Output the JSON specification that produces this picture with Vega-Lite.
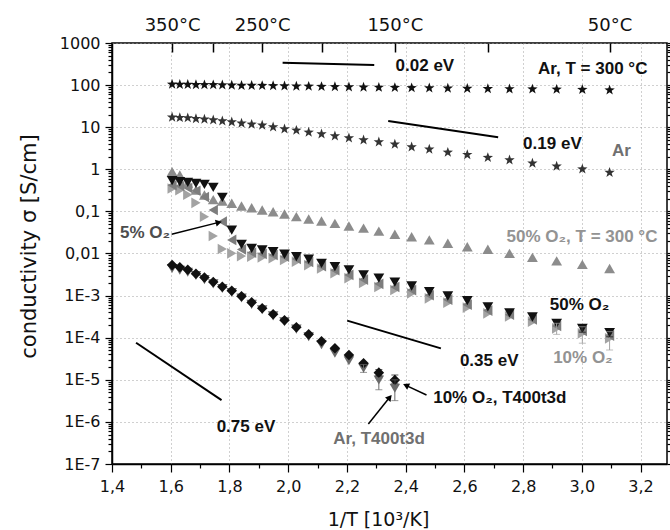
{
"$schema":"https://vega.github.io/schema/vega-lite/v6.json",
"width":555,"height":421,
"autosize":{"type":"none"},
"padding":{"left":112,"top":43,"right":3,"bottom":66},
"background":"white",
"config":{
 "view":{"stroke":"#000","strokeWidth":1.5},
 "axis":{"domainColor":"#000","domainWidth":1.5,"tickColor":"#000","tickWidth":1.2,"labelColor":"#111","titleColor":"#111","labelFont":"DejaVu Sans","titleFont":"DejaVu Sans","titleFontWeight":"normal","labelFontSize":16,"grid":false,"labelOverlap":false,"labelFlush":false}
},
"datasets":{
 "pts":[
{"x":1.6047,"s":0.88,"g":"O50T300"},{"x":1.6309,"s":0.73,"g":"O50T300"},{"x":1.658,"s":0.47,"g":"O50T300"},{"x":1.6859,"s":0.32,"g":"O50T300"},{"x":1.7148,"s":0.245,"g":"O50T300"},{"x":1.7448,"s":0.19,"g":"O50T300"},{"x":1.7757,"s":0.175,"g":"O50T300"},{"x":1.8078,"s":0.156,"g":"O50T300"},{"x":1.8411,"s":0.134,"g":"O50T300"},{"x":1.8756,"s":0.122,"g":"O50T300"},{"x":1.9115,"s":0.108,"g":"O50T300"},{"x":1.9487,"s":0.098,"g":"O50T300"},{"x":1.9875,"s":0.087,"g":"O50T300"},{"x":2.0278,"s":0.075,"g":"O50T300"},{"x":2.0698,"s":0.066,"g":"O50T300"},{"x":2.1135,"s":0.059,"g":"O50T300"},{"x":2.1591,"s":0.052,"g":"O50T300"},{"x":2.2068,"s":0.045,"g":"O50T300"},{"x":2.2566,"s":0.04,"g":"O50T300"},{"x":2.3087,"s":0.034,"g":"O50T300"},{"x":2.3632,"s":0.0286,"g":"O50T300"},{"x":2.4204,"s":0.025,"g":"O50T300"},{"x":2.4805,"s":0.021,"g":"O50T300"},{"x":2.5436,"s":0.0175,"g":"O50T300"},{"x":2.6099,"s":0.0145,"g":"O50T300"},{"x":2.6799,"s":0.0126,"g":"O50T300"},{"x":2.7537,"s":0.0101,"g":"O50T300"},{"x":2.8317,"s":0.0081,"g":"O50T300"},{"x":2.9142,"s":0.0067,"g":"O50T300"},{"x":3.0017,"s":0.0055,"g":"O50T300"},{"x":3.0945,"s":0.0044,"g":"O50T300"},
{"x":1.6047,"s":0.35,"g":"O10"},{"x":1.6309,"s":0.32,"g":"O10"},{"x":1.658,"s":0.25,"g":"O10"},{"x":1.6859,"s":0.16,"g":"O10"},{"x":1.7148,"s":0.075,"g":"O10"},{"x":1.7448,"s":0.026,"g":"O10"},{"x":1.7757,"s":0.0128,"g":"O10"},{"x":1.8078,"s":0.0101,"g":"O10"},{"x":1.8411,"s":0.0087,"g":"O10"},{"x":1.8756,"s":0.0084,"g":"O10"},{"x":1.9115,"s":0.0081,"g":"O10"},{"x":1.9487,"s":0.0077,"g":"O10"},{"x":1.9875,"s":0.007,"g":"O10"},{"x":2.0278,"s":0.0064,"g":"O10"},{"x":2.0698,"s":0.0053,"g":"O10"},{"x":2.1135,"s":0.0044,"g":"O10"},{"x":2.1591,"s":0.0034,"g":"O10"},{"x":2.2068,"s":0.0026,"g":"O10"},{"x":2.2566,"s":0.002,"g":"O10"},{"x":2.3087,"s":0.0016,"g":"O10"},{"x":2.3632,"s":0.00136,"g":"O10"},{"x":2.4204,"s":0.00113,"g":"O10"},{"x":2.4805,"s":0.00086,"g":"O10"},{"x":2.5436,"s":0.00068,"g":"O10"},{"x":2.6099,"s":0.00052,"g":"O10"},{"x":2.6799,"s":0.00038,"g":"O10"},{"x":2.7537,"s":0.00032,"g":"O10"},{"x":2.8317,"s":0.00024,"g":"O10"},{"x":2.9142,"s":0.000167,"g":"O10"},{"x":3.0017,"s":0.000127,"g":"O10"},{"x":3.0945,"s":0.0000968,"g":"O10"},
{"x":1.6047,"s":0.42,"g":"O5"},{"x":1.6309,"s":0.4,"g":"O5"},{"x":1.658,"s":0.36,"g":"O5"},{"x":1.6859,"s":0.31,"g":"O5"},{"x":1.7148,"s":0.22,"g":"O5"},{"x":1.7448,"s":0.108,"g":"O5"},{"x":1.7757,"s":0.057,"g":"O5"},{"x":1.8078,"s":0.021,"g":"O5"},{"x":1.8411,"s":0.0125,"g":"O5"},{"x":1.8756,"s":0.0105,"g":"O5"},{"x":1.9115,"s":0.0098,"g":"O5"},{"x":1.9487,"s":0.0092,"g":"O5"},{"x":1.9875,"s":0.0084,"g":"O5"},{"x":2.0278,"s":0.0074,"g":"O5"},{"x":2.0698,"s":0.0063,"g":"O5"},{"x":2.1135,"s":0.005,"g":"O5"},{"x":2.1591,"s":0.004,"g":"O5"},{"x":2.2068,"s":0.0031,"g":"O5"},{"x":2.2566,"s":0.0024,"g":"O5"},{"x":2.3087,"s":0.0019,"g":"O5"},{"x":2.3632,"s":0.0016,"g":"O5"},{"x":2.4204,"s":0.00135,"g":"O5"},{"x":2.4805,"s":0.00102,"g":"O5"},{"x":2.5436,"s":0.0008,"g":"O5"},{"x":2.6099,"s":0.00061,"g":"O5"},{"x":2.6799,"s":0.00044,"g":"O5"},{"x":2.7537,"s":0.00035,"g":"O5"},{"x":2.8317,"s":0.00027,"g":"O5"},{"x":2.9142,"s":0.00019,"g":"O5"},{"x":3.0017,"s":0.000145,"g":"O5"},{"x":3.0945,"s":0.000112,"g":"O5"},
{"x":1.6047,"s":0.0044,"g":"ArT400"},{"x":1.6309,"s":0.004,"g":"ArT400"},{"x":1.658,"s":0.0036,"g":"ArT400"},{"x":1.6859,"s":0.003,"g":"ArT400"},{"x":1.7148,"s":0.0024,"g":"ArT400"},{"x":1.7448,"s":0.0019,"g":"ArT400"},{"x":1.7757,"s":0.00148,"g":"ArT400"},{"x":1.8078,"s":0.00118,"g":"ArT400"},{"x":1.8411,"s":0.00088,"g":"ArT400"},{"x":1.8756,"s":0.00062,"g":"ArT400"},{"x":1.9115,"s":0.00046,"g":"ArT400"},{"x":1.9487,"s":0.00033,"g":"ArT400"},{"x":1.9875,"s":0.00024,"g":"ArT400"},{"x":2.0278,"s":0.00016,"g":"ArT400"},{"x":2.0698,"s":0.000105,"g":"ArT400"},{"x":2.1135,"s":0.000068,"g":"ArT400"},{"x":2.1591,"s":0.0000426,"g":"ArT400"},{"x":2.2068,"s":0.0000284,"g":"ArT400"},{"x":2.2566,"s":0.0000188,"g":"ArT400"},{"x":2.3087,"s":0.0000099,"g":"ArT400"},{"x":2.3632,"s":0.0000063,"g":"ArT400"},
{"x":1.6047,"s":17.2,"g":"Ar"},{"x":1.6309,"s":16.8,"g":"Ar"},{"x":1.658,"s":16.6,"g":"Ar"},{"x":1.6859,"s":15.9,"g":"Ar"},{"x":1.7148,"s":15.4,"g":"Ar"},{"x":1.7448,"s":14.8,"g":"Ar"},{"x":1.7757,"s":14.0,"g":"Ar"},{"x":1.8078,"s":13.3,"g":"Ar"},{"x":1.8411,"s":12.4,"g":"Ar"},{"x":1.8756,"s":11.7,"g":"Ar"},{"x":1.9115,"s":11.1,"g":"Ar"},{"x":1.9487,"s":10.1,"g":"Ar"},{"x":1.9875,"s":9.06,"g":"Ar"},{"x":2.0278,"s":8.43,"g":"Ar"},{"x":2.0698,"s":7.56,"g":"Ar"},{"x":2.1135,"s":6.89,"g":"Ar"},{"x":2.1591,"s":6.18,"g":"Ar"},{"x":2.2068,"s":5.54,"g":"Ar"},{"x":2.2566,"s":4.96,"g":"Ar"},{"x":2.3087,"s":4.45,"g":"Ar"},{"x":2.3632,"s":3.93,"g":"Ar"},{"x":2.4204,"s":3.39,"g":"Ar"},{"x":2.4805,"s":2.99,"g":"Ar"},{"x":2.5436,"s":2.53,"g":"Ar"},{"x":2.6099,"s":2.22,"g":"Ar"},{"x":2.6799,"s":1.89,"g":"Ar"},{"x":2.7537,"s":1.66,"g":"Ar"},{"x":2.8317,"s":1.39,"g":"Ar"},{"x":2.9142,"s":1.18,"g":"Ar"},{"x":3.0017,"s":1.01,"g":"Ar"},{"x":3.0945,"s":0.84,"g":"Ar"},
{"x":1.6047,"s":0.536,"g":"O50"},{"x":1.6309,"s":0.507,"g":"O50"},{"x":1.658,"s":0.49,"g":"O50"},{"x":1.6859,"s":0.465,"g":"O50"},{"x":1.7148,"s":0.44,"g":"O50"},{"x":1.7448,"s":0.373,"g":"O50"},{"x":1.7757,"s":0.216,"g":"O50"},{"x":1.8078,"s":0.036,"g":"O50"},{"x":1.8411,"s":0.0165,"g":"O50"},{"x":1.8756,"s":0.0133,"g":"O50"},{"x":1.9115,"s":0.0121,"g":"O50"},{"x":1.9487,"s":0.011,"g":"O50"},{"x":1.9875,"s":0.0096,"g":"O50"},{"x":2.0278,"s":0.0084,"g":"O50"},{"x":2.0698,"s":0.0073,"g":"O50"},{"x":2.1135,"s":0.0058,"g":"O50"},{"x":2.1591,"s":0.0049,"g":"O50"},{"x":2.2068,"s":0.0041,"g":"O50"},{"x":2.2566,"s":0.0031,"g":"O50"},{"x":2.3087,"s":0.0026,"g":"O50"},{"x":2.3632,"s":0.0021,"g":"O50"},{"x":2.4204,"s":0.00169,"g":"O50"},{"x":2.4805,"s":0.00124,"g":"O50"},{"x":2.5436,"s":0.00098,"g":"O50"},{"x":2.6099,"s":0.00076,"g":"O50"},{"x":2.6799,"s":0.00054,"g":"O50"},{"x":2.7537,"s":0.00039,"g":"O50"},{"x":2.8317,"s":0.00031,"g":"O50"},{"x":2.9142,"s":0.00022,"g":"O50"},{"x":3.0017,"s":0.000167,"g":"O50"},{"x":3.0945,"s":0.000132,"g":"O50"},
{"x":1.6047,"s":0.0053,"g":"T400"},{"x":1.6309,"s":0.0047,"g":"T400"},{"x":1.658,"s":0.0041,"g":"T400"},{"x":1.6859,"s":0.0033,"g":"T400"},{"x":1.7148,"s":0.0027,"g":"T400"},{"x":1.7448,"s":0.0021,"g":"T400"},{"x":1.7757,"s":0.00163,"g":"T400"},{"x":1.8078,"s":0.0013,"g":"T400"},{"x":1.8411,"s":0.00096,"g":"T400"},{"x":1.8756,"s":0.00069,"g":"T400"},{"x":1.9115,"s":0.0005,"g":"T400"},{"x":1.9487,"s":0.00036,"g":"T400"},{"x":1.9875,"s":0.00026,"g":"T400"},{"x":2.0278,"s":0.000178,"g":"T400"},{"x":2.0698,"s":0.00012,"g":"T400"},{"x":2.1135,"s":0.000082,"g":"T400"},{"x":2.1591,"s":0.000056,"g":"T400"},{"x":2.2068,"s":0.0000388,"g":"T400"},{"x":2.2566,"s":0.0000247,"g":"T400"},{"x":2.3087,"s":0.0000148,"g":"T400"},{"x":2.3632,"s":0.0000099,"g":"T400"},
{"x":1.6047,"s":104,"g":"Ar300"},{"x":1.6309,"s":103,"g":"Ar300"},{"x":1.658,"s":103,"g":"Ar300"},{"x":1.6859,"s":102,"g":"Ar300"},{"x":1.7148,"s":101,"g":"Ar300"},{"x":1.7448,"s":101,"g":"Ar300"},{"x":1.7757,"s":100,"g":"Ar300"},{"x":1.8078,"s":99,"g":"Ar300"},{"x":1.8411,"s":98,"g":"Ar300"},{"x":1.8756,"s":98,"g":"Ar300"},{"x":1.9115,"s":97,"g":"Ar300"},{"x":1.9487,"s":96,"g":"Ar300"},{"x":1.9875,"s":95,"g":"Ar300"},{"x":2.0278,"s":94,"g":"Ar300"},{"x":2.0698,"s":93,"g":"Ar300"},{"x":2.1135,"s":92,"g":"Ar300"},{"x":2.1591,"s":91,"g":"Ar300"},{"x":2.2068,"s":90,"g":"Ar300"},{"x":2.2566,"s":89,"g":"Ar300"},{"x":2.3087,"s":88,"g":"Ar300"},{"x":2.3632,"s":87,"g":"Ar300"},{"x":2.4204,"s":86,"g":"Ar300"},{"x":2.4805,"s":85,"g":"Ar300"},{"x":2.5436,"s":84,"g":"Ar300"},{"x":2.6099,"s":83,"g":"Ar300"},{"x":2.6799,"s":82,"g":"Ar300"},{"x":2.7537,"s":81,"g":"Ar300"},{"x":2.8317,"s":80,"g":"Ar300"},{"x":2.9142,"s":79,"g":"Ar300"},{"x":3.0017,"s":78,"g":"Ar300"},{"x":3.0945,"s":76,"g":"Ar300"}
 ],
 "errs":[
{"x":2.3632,"lo":0.0000032,"hi":0.00001,"g":"ArT400"},
{"x":2.3087,"lo":0.0000058,"hi":0.000011,"g":"ArT400"},
{"x":2.2566,"lo":0.000015,"hi":0.000023,"g":"ArT400"},
{"x":2.3632,"lo":0.0000083,"hi":0.000013,"g":"T400"},
{"x":2.3087,"lo":0.0000125,"hi":0.0000175,"g":"T400"},
{"x":3.0017,"lo":0.000074,"hi":0.000182,"g":"O10"},
{"x":3.0945,"lo":0.000051,"hi":0.000139,"g":"O10"},
{"x":2.9142,"lo":0.00012,"hi":0.00022,"g":"O10"},
{"x":3.0017,"lo":0.000135,"hi":0.0002,"g":"O50"},
{"x":3.0945,"lo":0.000105,"hi":0.00016,"g":"O50"}
 ],
 "ev":[
{"x":1.981,"y":340,"x2":2.293,"y2":300},
{"x":2.3406,"y":14.0,"x2":2.715,"y2":5.76},
{"x":2.201,"y":0.000254,"x2":2.52,"y2":0.0000557},
{"x":1.482,"y":0.000076,"x2":1.773,"y2":0.0000033}
 ],
 "arr":[
{"id":"a","x":1.603,"y":0.0286,"x2":1.7636,"y2":0.0548},
{"id":"b","x":2.471,"y":0.00000435,"x2":2.4009,"y2":0.0000074},
{"id":"c","x":2.273,"y":0.00000089,"x2":2.3457,"y2":0.00000384}
 ],
 "labels":[
{"x":2.3658,"y":281,"t":"0.02 eV","k":"k"},
{"x":2.851,"y":244,"t":"Ar, T = 300 °C","k":"k"},
{"x":2.8,"y":4.06,"t":"0.19 eV","k":"k"},
{"x":3.103,"y":2.77,"t":"Ar","k":"g"},
{"x":1.4272,"y":0.03,"t":"5% O₂","k":"d"},
{"x":2.7436,"y":0.0243,"t":"50% O₂, T = 300 °C","k":"l"},
{"x":2.891,"y":0.000598,"t":"50% O₂","k":"k"},
{"x":2.9023,"y":0.0000324,"t":"10% O₂","k":"l"},
{"x":2.5847,"y":0.000028,"t":"0.35 eV","k":"k"},
{"x":2.4938,"y":0.00000363,"t":"10% O₂, T400t3d","k":"k"},
{"x":1.7564,"y":0.00000077,"t":"0.75 eV","k":"k"},
{"x":2.1534,"y":0.000000393,"t":"Ar, T400t3d","k":"g"}
 ]
},
"layer":[
 {"data":{"name":"pts"},
  "mark":{"type":"point","filled":true,"opacity":1},
  "encoding":{
   "x":{"field":"x","type":"quantitative","scale":{"type":"linear","domain":[1.4,3.29],"nice":false,"zero":false},
        "axis":{"orient":"bottom","values":[1.4,1.6,1.8,2.0,2.2,2.4,2.6,2.8,3.0,3.2],"labelExpr":"replace(format(datum.value,'.1f'),'.',',')","tickSize":8,"labelPadding":6,"grid":true,"gridDash":[1,3],"gridColor":"#a0a0a0","gridWidth":1,"title":"1/T [10³/K]","titleFontSize":19,"titleX":266,"titleY":55,"titleBaseline":"middle","titleAlign":"center"}},
   "y":{"field":"s","type":"quantitative","scale":{"type":"log","domain":[1e-7,1000],"nice":false},
        "axis":{"orient":"left","values":[1e-7,1e-6,1e-5,1e-4,1e-3,0.01,0.1,1,10,100,1000],"labelExpr":"datum.value >= 1 ? format(datum.value,'d') : datum.value > 0.05 ? '0,1' : datum.value > 0.005 ? '0,01' : '1E-' + round(-log(datum.value)/LN10)","tickSize":7,"labelPadding":5,"grid":true,"gridDash":[1,3],"gridColor":"#a0a0a0","gridWidth":1,"title":"conductivity σ  [S/cm]","titleFontSize":21,"titleX":-83,"titleY":203,"titleAngle":-90,"titleBaseline":"middle","titleAlign":"center"}},
   "shape":{"field":"g","type":"nominal","legend":null,"scale":{"domain":["Ar300","Ar","O50T300","O50","O10","O5","T400","ArT400"],"range":["M0,-1L0.24,-0.33L0.95,-0.31L0.38,0.12L0.59,0.81L0,0.4L-0.59,0.81L-0.38,0.12L-0.95,-0.31L-0.24,-0.33Z","M0,-1L0.24,-0.33L0.95,-0.31L0.38,0.12L0.59,0.81L0,0.4L-0.59,0.81L-0.38,0.12L-0.95,-0.31L-0.24,-0.33Z","triangle-up","triangle-down","triangle-right","triangle-left","diamond","triangle-down"]}},
   "size":{"field":"g","type":"nominal","legend":null,"scale":{"domain":["Ar300","Ar","O50T300","O50","O10","O5","T400","ArT400"],"range":[120,110,55,58,55,55,62,58]}},
   "color":{"field":"g","type":"nominal","legend":null,"scale":{"domain":["Ar300","Ar","O50T300","O50","O10","O5","T400","ArT400"],"range":["#111111","#333333","#8c8c8c","#111111","#a3a3a3","#7d7d7d","#111111","#6a6a6a"]}}
  }},
 {"data":{"name":"errs"},
  "mark":{"type":"rule","strokeWidth":1},
  "encoding":{
   "x":{"field":"x","type":"quantitative","scale":{"type":"linear","domain":[1.4,3.29],"nice":false,"zero":false},
        "axis":{"orient":"top","values":[1.60475,1.74475,1.9115,2.11349,2.36323,2.67989,3.09454],"labelExpr":"datum.value < 1.65 ? '350°C' : (datum.value > 1.9 && datum.value < 1.95) ? '250°C' : (datum.value > 2.3 && datum.value < 2.4) ? '150°C' : datum.value > 3 ? '50°C' : ''","ticks":false,"labelPadding":9,"domain":false,"labelFontSize":18,"title":null,"grid":false}},
   "y":{"field":"lo","type":"quantitative","scale":{"type":"log","domain":[1e-7,1000],"nice":false},
        "axis":{"orient":"right","values":[1e-7,1e-6,1e-5,1e-4,1e-3,0.01,0.1,1,10,100,1000],"labels":false,"tickSize":7,"domain":false,"title":null,"grid":false}},
   "y2":{"field":"hi"},
   "color":{"field":"g","type":"nominal","legend":null}
  }},
 {"data":{"name":"errs"},
  "mark":{"type":"tick","orient":"horizontal","size":7,"thickness":1},
  "encoding":{
   "x":{"field":"x","type":"quantitative","scale":{"type":"linear","domain":[1.4,3.29],"nice":false,"zero":false},
        "axis":{"orient":"bottom","values":[1.5,1.7,1.9,2.1,2.3,2.5,2.7,2.9,3.1],"labels":false,"tickSize":4,"domain":false,"title":null,"grid":false}},
   "y":{"field":"lo","type":"quantitative","scale":{"type":"log","domain":[1e-7,1000],"nice":false},
        "axis":{"orient":"left","values":[2e-7,3e-7,4e-7,5e-7,6e-7,7e-7,8e-7,9e-7,2e-6,3e-6,4e-6,5e-6,6e-6,7e-6,8e-6,9e-6,2e-5,3e-5,4e-5,5e-5,6e-5,7e-5,8e-5,9e-5,2e-4,3e-4,4e-4,5e-4,6e-4,7e-4,8e-4,9e-4,0.002,0.003,0.004,0.005,0.006,0.007,0.008,0.009,0.02,0.03,0.04,0.05,0.06,0.07,0.08,0.09,0.2,0.3,0.4,0.5,0.6,0.7,0.8,0.9,2,3,4,5,6,7,8,9,20,30,40,50,60,70,80,90,200,300,400,500,600,700,800,900],"labels":false,"tickSize":4,"domain":false,"title":null,"grid":false}},
   "color":{"field":"g","type":"nominal","legend":null}
  }},
 {"data":{"name":"errs"},
  "mark":{"type":"tick","orient":"horizontal","size":7,"thickness":1},
  "encoding":{
   "x":{"field":"x","type":"quantitative","scale":{"type":"linear","domain":[1.4,3.29],"nice":false,"zero":false},
        "axis":{"orient":"top","offset":-9,"values":[1.60475,1.74475,1.9115,2.11349,2.36323,2.67989,3.09454],"labels":false,"tickSize":9,"tickWidth":1.5,"domain":false,"title":null,"grid":false}},
   "y":{"field":"hi","type":"quantitative","scale":{"type":"log","domain":[1e-7,1000],"nice":false},
        "axis":{"orient":"right","values":[2e-7,3e-7,4e-7,5e-7,6e-7,7e-7,8e-7,9e-7,2e-6,3e-6,4e-6,5e-6,6e-6,7e-6,8e-6,9e-6,2e-5,3e-5,4e-5,5e-5,6e-5,7e-5,8e-5,9e-5,2e-4,3e-4,4e-4,5e-4,6e-4,7e-4,8e-4,9e-4,0.002,0.003,0.004,0.005,0.006,0.007,0.008,0.009,0.02,0.03,0.04,0.05,0.06,0.07,0.08,0.09,0.2,0.3,0.4,0.5,0.6,0.7,0.8,0.9,2,3,4,5,6,7,8,9,20,30,40,50,60,70,80,90,200,300,400,500,600,700,800,900],"labels":false,"tickSize":4,"domain":false,"title":null,"grid":false}},
   "color":{"field":"g","type":"nominal","legend":null}
  }},
 {"data":{"name":"ev"},
  "mark":{"type":"rule","strokeWidth":2,"color":"#000"},
  "encoding":{
   "x":{"field":"x","type":"quantitative","scale":{"type":"linear","domain":[1.4,3.29],"nice":false,"zero":false},"axis":null},
   "x2":{"field":"x2"},
   "y":{"field":"y","type":"quantitative","scale":{"type":"log","domain":[1e-7,1000],"nice":false},"axis":null},
   "y2":{"field":"y2"}
  }},
 {"data":{"name":"arr"},
  "mark":{"type":"rule","strokeWidth":1.5,"color":"#000"},
  "encoding":{
   "x":{"field":"x","type":"quantitative","scale":{"type":"linear","domain":[1.4,3.29],"nice":false,"zero":false},"axis":null},
   "x2":{"field":"x2"},
   "y":{"field":"y","type":"quantitative","scale":{"type":"log","domain":[1e-7,1000],"nice":false},"axis":null},
   "y2":{"field":"y2"}
  }},
 {"data":{"name":"arr"},
  "transform":[{"filter":"datum.id == 'a'"}],
  "mark":{"type":"point","shape":"triangle-up","filled":true,"opacity":1,"size":50,"color":"#000","angle":76},
  "encoding":{
   "x":{"field":"x2","type":"quantitative","scale":{"type":"linear","domain":[1.4,3.29],"nice":false,"zero":false},"axis":null},
   "y":{"field":"y2","type":"quantitative","scale":{"type":"log","domain":[1e-7,1000],"nice":false},"axis":null}
  }},
 {"data":{"name":"arr"},
  "transform":[{"filter":"datum.id == 'b'"}],
  "mark":{"type":"point","shape":"triangle-up","filled":true,"opacity":1,"size":50,"color":"#000","angle":295},
  "encoding":{
   "x":{"field":"x2","type":"quantitative","scale":{"type":"linear","domain":[1.4,3.29],"nice":false,"zero":false},"axis":null},
   "y":{"field":"y2","type":"quantitative","scale":{"type":"log","domain":[1e-7,1000],"nice":false},"axis":null}
  }},
 {"data":{"name":"arr"},
  "transform":[{"filter":"datum.id == 'c'"}],
  "mark":{"type":"point","shape":"triangle-up","filled":true,"opacity":1,"size":50,"color":"#000","angle":39},
  "encoding":{
   "x":{"field":"x2","type":"quantitative","scale":{"type":"linear","domain":[1.4,3.29],"nice":false,"zero":false},"axis":null},
   "y":{"field":"y2","type":"quantitative","scale":{"type":"log","domain":[1e-7,1000],"nice":false},"axis":null}
  }},
 {"data":{"name":"labels"},
  "mark":{"type":"text","font":"Liberation Sans","fontWeight":"bold","fontSize":17,"align":"left","baseline":"middle"},
  "encoding":{
   "x":{"field":"x","type":"quantitative","scale":{"type":"linear","domain":[1.4,3.29],"nice":false,"zero":false},"axis":null},
   "y":{"field":"y","type":"quantitative","scale":{"type":"log","domain":[1e-7,1000],"nice":false},"axis":null},
   "text":{"field":"t"},
   "fill":{"field":"k","type":"nominal","legend":null,"scale":{"domain":["k","d","g","l"],"range":["#111111","#4d4d4d","#707070","#939393"]}}
  }}
],
"resolve":{"axis":{"x":"independent","y":"independent"}}
}
